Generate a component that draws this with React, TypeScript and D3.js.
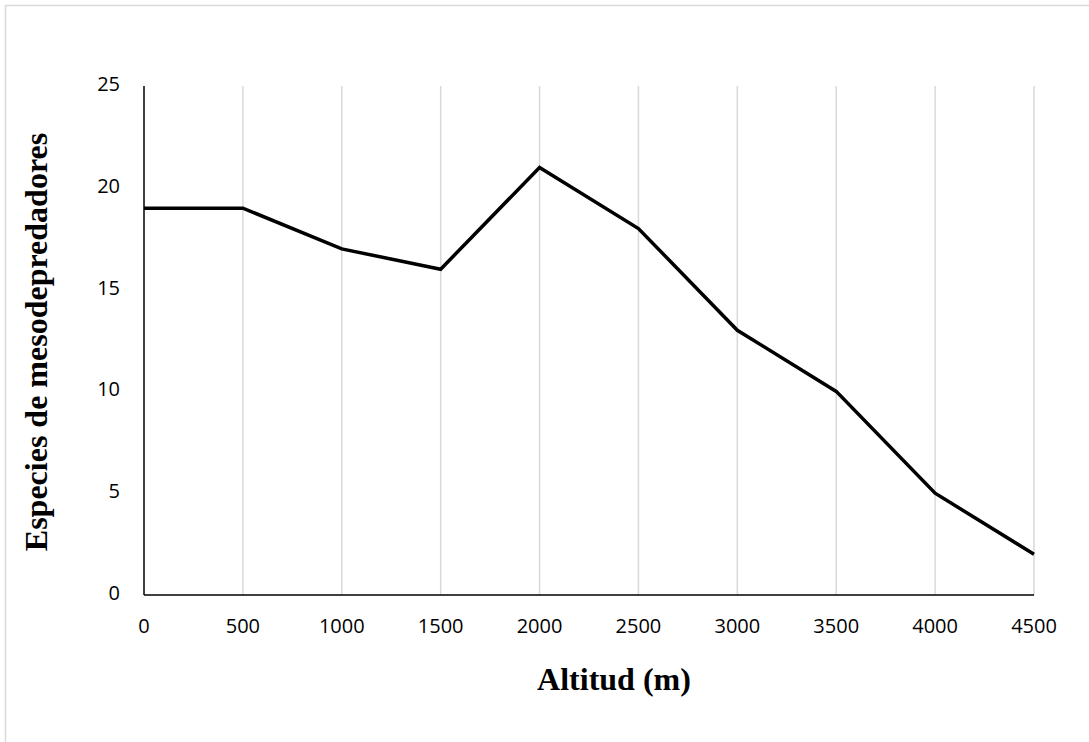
import React from "react";
import * as d3 from "d3";

const altitudes = [0, 500, 1000, 1500, 2000, 2500, 3000, 3500, 4000, 4500];
const species = [19, 19, 17, 16, 21, 18, 13, 10, 5, 2];
const yTicks = [0, 5, 10, 15, 20, 25];
const xLabel = "Altitud (m)";
const yLabel = "Especies de mesodepredadores";

export default function App() {
  const W = 1089, H = 742;
  const x = d3.scaleLinear().domain([0, 4500]).range([144, 1034]);
  const y = d3.scaleLinear().domain([0, 25]).range([595, 86]);
  const line = d3.line<number>().x((_, i) => x(altitudes[i])).y((d) => y(d));
  const tickFont = "'Open Sans', 'Liberation Sans', sans-serif";
  const titleFont = "'Liberation Serif', 'Times New Roman', serif";
  return (
    <svg width={W} height={H} style={{ position: "absolute", left: 0, top: 0, background: "#fff" }}>
      <rect x={5.5} y={5.5} width={W + 10} height={H + 10} fill="#fff" stroke="#d9d9d9" strokeWidth={1.5} />
      {altitudes.slice(1).map((a) => (
        <line key={a} x1={x(a)} x2={x(a)} y1={y(25)} y2={y(0)} stroke="#d9d9d9" strokeWidth={1.5} />
      ))}
      <line x1={x(0)} x2={x(0)} y1={y(25)} y2={y(0)} stroke="#000" strokeWidth={1.5} />
      <line x1={x(0)} x2={x(4500)} y1={y(0)} y2={y(0)} stroke="#000" strokeWidth={1.5} />
      {yTicks.map((t) => (
        <text key={t} x={120} y={y(t) - 2} dy="0.35em" textAnchor="end" fontFamily={tickFont} fontSize={20} fill="#000">
          {t}
        </text>
      ))}
      {altitudes.map((a) => (
        <text key={a} x={x(a)} y={626} dy="0.35em" textAnchor="middle" fontFamily={tickFont} fontSize={20} fill="#000">
          {a}
        </text>
      ))}
      <path d={line(species) || ""} fill="none" stroke="#000" strokeWidth={3.5} strokeLinejoin="miter" />
      <text x={614} y={690} textAnchor="middle" fontFamily={titleFont} fontWeight="bold" fontSize={32} fill="#000">
        {xLabel}
      </text>
      <text
        transform={`translate(36,342) rotate(-90)`}
        dy="0.35em"
        textAnchor="middle"
        fontFamily={titleFont}
        fontWeight="bold"
        fontSize={32}
        fill="#000"
      >
        {yLabel}
      </text>
    </svg>
  );
}
